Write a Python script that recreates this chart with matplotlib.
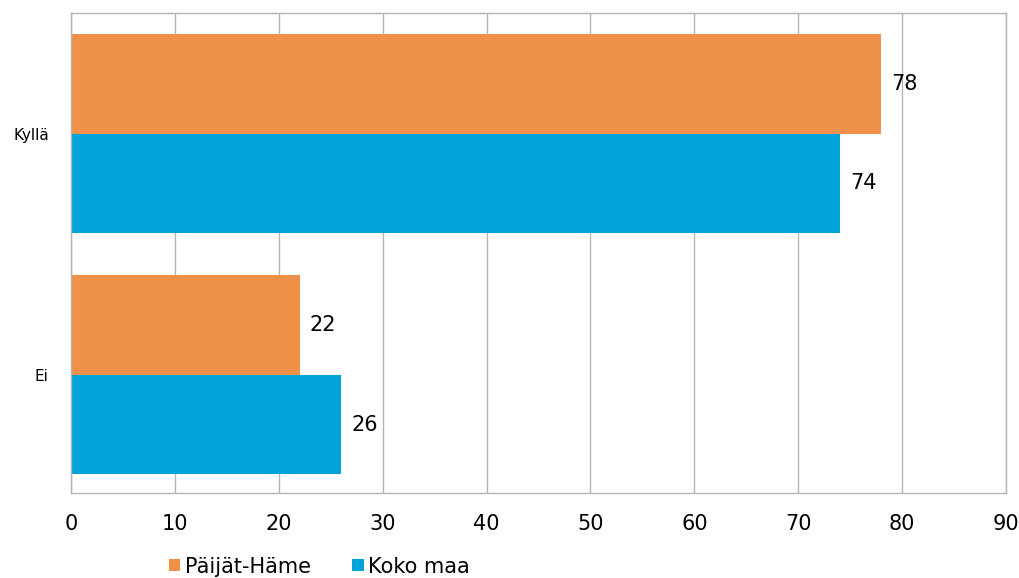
import matplotlib.pyplot as plt
import numpy as np

plt.rcParams['font.family'] = ['DejaVu Sans']

categories = ['Kyllä', 'Ei']
series_names = ['Päijät-Häme', 'Koko maa']
paijat_hame = [78, 22]
koko_maa = [74, 26]
x_ticks = list(range(0, 100, 10))

colors = ['#F0914A', '#00A3DA']

fig = plt.figure(figsize=(10.2, 5.78), dpi=100)
ax = fig.add_axes([0.0696, 0.147, 0.9167, 0.8305])

y = np.arange(len(categories))
h = 0.413
b1 = ax.barh(y - h / 2, paijat_hame, height=h, color=colors[0], label=series_names[0])
b2 = ax.barh(y + h / 2, koko_maa, height=h, color=colors[1], label=series_names[1])

for bars, vals in ((b1, paijat_hame), (b2, koko_maa)):
    for bar, v in zip(bars, vals):
        ax.text(v + 1.0, bar.get_y() + bar.get_height() / 2, str(v),
                va='center', ha='left', fontsize=15)

ax.set_ylim(1.49, -0.5)
ax.set_xlim(0, 90)
ax.set_xticks(x_ticks)
ax.set_xticklabels([str(t) for t in x_ticks], fontsize=15)
ax.set_yticks(y)
ax.set_yticklabels(categories, fontsize=11)
ax.tick_params(axis='both', length=0)
ax.tick_params(axis='x', pad=15)
ax.tick_params(axis='y', pad=16)

ax.grid(axis='x', color='#B4B4B4', linewidth=1)
ax.set_axisbelow(True)
for s in ax.spines.values():
    s.set_color('#B4B4B4')
    s.set_linewidth(1)

fig.legend(loc='lower center', bbox_to_anchor=(0.313, -0.03), ncol=2, frameon=False,
           fontsize=15, handlelength=0.55, handleheight=0.55, handletextpad=0.2,
           columnspacing=2.0)

plt.savefig('out.png', dpi=100)
